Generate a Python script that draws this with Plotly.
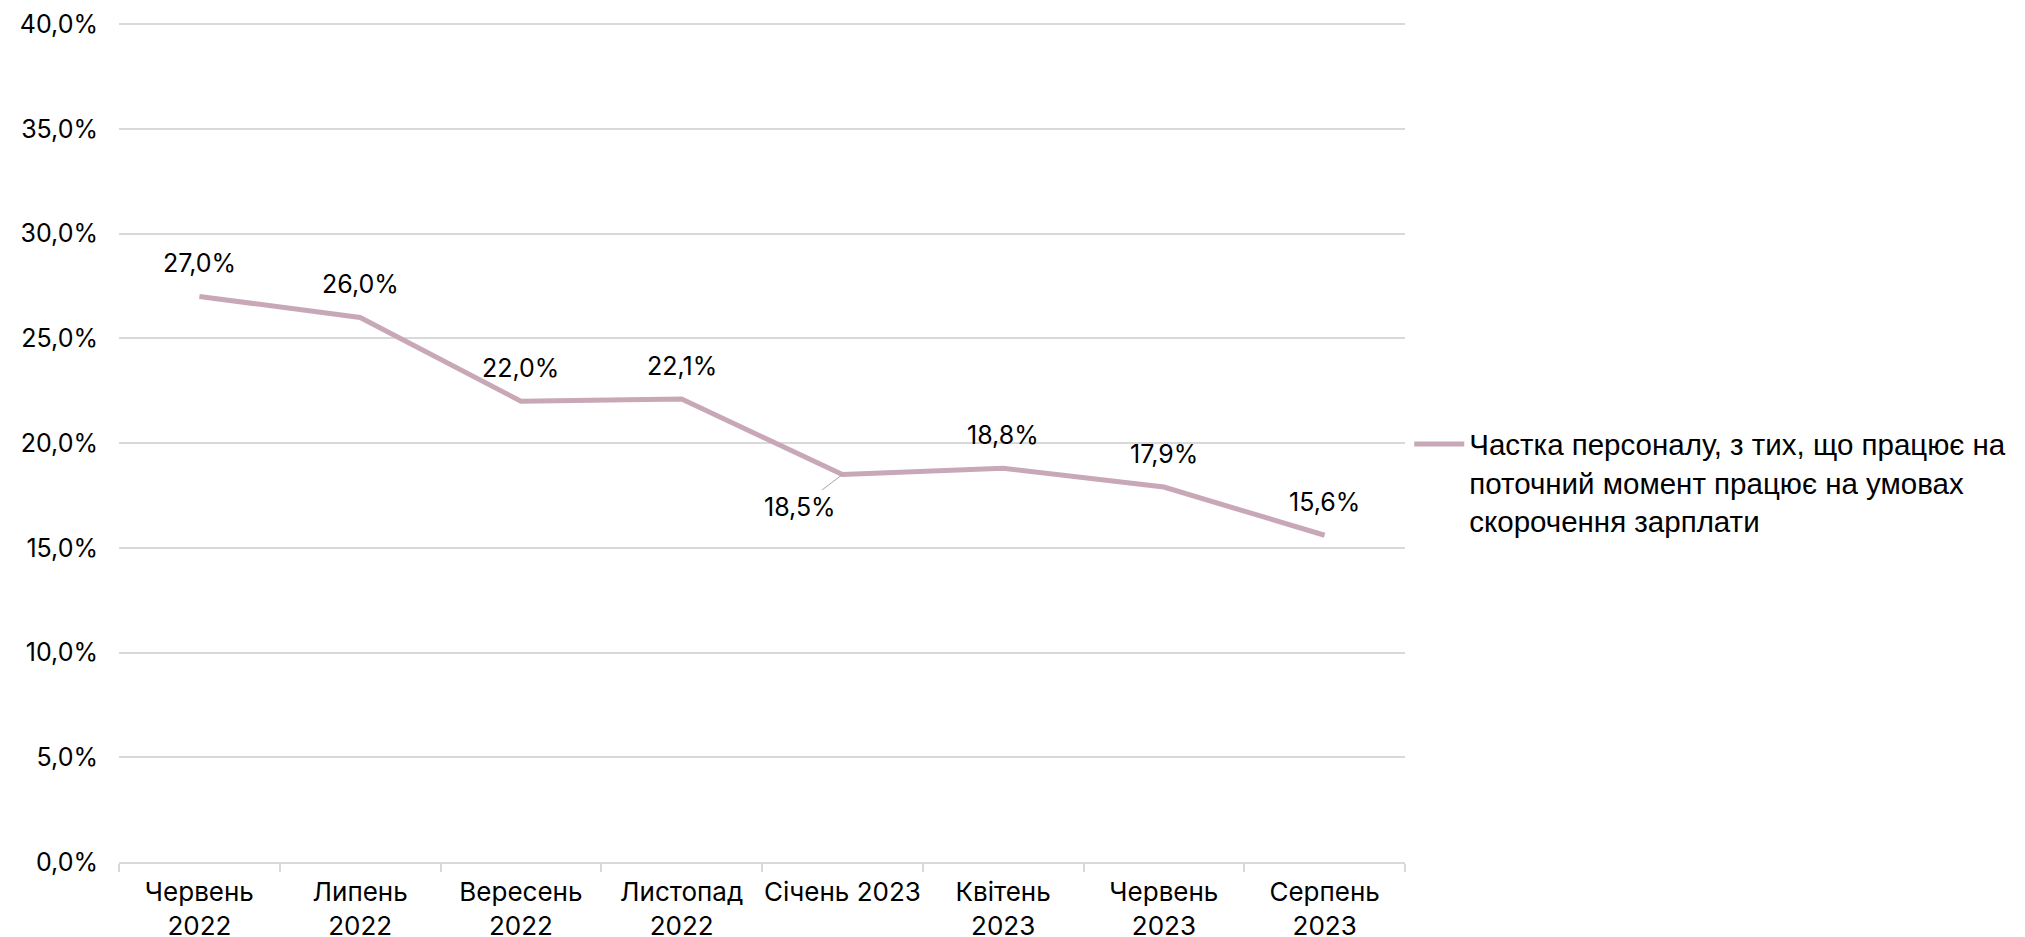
import plotly.graph_objects as go

categories = ["Червень<br>2022", "Липень<br>2022", "Вересень<br>2022", "Листопад<br>2022",
              "Січень 2023", "Квітень<br>2023", "Червень<br>2023", "Серпень<br>2023"]
values = [27.0, 26.0, 22.0, 22.1, 18.5, 18.8, 17.9, 15.6]
labels = ["27,0%", "26,0%", "22,0%", "22,1%", "18,5%", "18,8%", "17,9%", "15,6%"]
y_ticks = [0, 5, 10, 15, 20, 25, 30, 35, 40]
y_tick_labels = ["0,0%", "5,0%", "10,0%", "15,0%", "20,0%", "25,0%", "30,0%", "35,0%", "40,0%"]
series_name = "Частка персоналу, з тих, що працює на<br>поточний момент працює на умовах<br>скорочення зарплати"

line_color = "#C8A8B7"
base_font = dict(family="Inter, Roboto, sans-serif", size=25, color="#000000")
xtick_font = dict(family="Inter, Roboto, sans-serif", size=26, color="#000000")

fig = go.Figure()
fig.add_trace(go.Scatter(
    x=categories, y=values, mode="lines", name=series_name,
    line=dict(color=line_color, width=5),
    showlegend=True,
))

for i, (c, v, t) in enumerate(zip(categories, values, labels)):
    if i == 4:
        fig.add_annotation(x=c, y=v, text=t, showarrow=True, arrowhead=0, arrowwidth=1,
                           arrowcolor="#A6A6A6", ax=-42, ay=32, standoff=0,
                           font=base_font)
    else:
        fig.add_annotation(x=c, y=v, text=t, showarrow=False, yshift=33, font=base_font)

fig.update_layout(
    width=2025, height=937,
    margin=dict(l=111, r=628, t=12, b=83),
    plot_bgcolor="white", paper_bgcolor="white",
    font=base_font,
    legend=dict(x=1.0033, y=0.527, xanchor="left", yanchor="top", valign="top",
                font=dict(family="Liberation Sans, Arial, sans-serif", size=29.5, color="#000000"),
                itemwidth=50, bgcolor="rgba(0,0,0,0)"),
    showlegend=True,
)
fig.update_xaxes(
    type="category", showgrid=False, showline=True, linecolor="#D9D9D9", linewidth=2,
    ticks="outside", tickson="boundaries", ticklen=8, tickcolor="#D9D9D9", tickwidth=2,
    tickfont=xtick_font, tickangle=0, range=[-0.5, 7.5], automargin=False, ticklabelstandoff=6,
    ticklabeloverflow="allow",
)
fig.update_yaxes(
    range=[0, 40.2], tickvals=y_ticks, ticktext=y_tick_labels,
    showgrid=True, gridcolor="#D9D9D9", gridwidth=1.5, zeroline=False, showline=False,
    tickfont=base_font, ticklabelstandoff=20, automargin=False, ticklabeloverflow="allow",
)

fig.write_html("out.html")
